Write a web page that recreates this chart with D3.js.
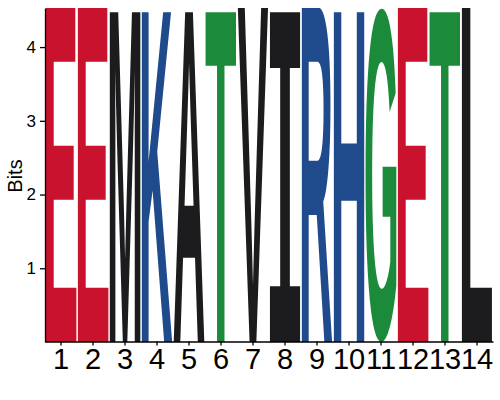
<!DOCTYPE html>
<html>
<head>
<meta charset="utf-8">
<script src="https://cdn.jsdelivr.net/npm/d3@7"></script>
<style>
  body { margin: 0; background: #fff; }
  text { font-family: "Liberation Sans", Arial, Helvetica, sans-serif; }
</style>
</head>
<body>
<div id="chart"></div>
<script>
// one letter per position, full column height (clipped at the top)
var positions = [1, 2, 3, 4, 5, 6, 7, 8, 9, 10, 11, 12, 13, 14];
var letters = ['E', 'E', 'M', 'K', 'A', 'T', 'V', 'I', 'R', 'H', 'G', 'E', 'T', 'L'];
var bits = [4.55, 4.55, 4.55, 4.55, 4.55, 4.55, 4.55, 4.55, 4.55, 4.55, 4.53, 4.55, 4.55, 4.55];
var yTicks = [1, 2, 3, 4];

var colorOf = {
    E: '#c8122e', D: '#c8122e',
    K: '#1f4a8b', R: '#1f4a8b', H: '#1f4a8b',
    G: '#1b8a3b', T: '#1b8a3b', S: '#1b8a3b', Y: '#1b8a3b', C: '#1b8a3b', N: '#1b8a3b', Q: '#1b8a3b',
    A: '#1c1b1e', M: '#1c1b1e', V: '#1c1b1e', I: '#1c1b1e', L: '#1c1b1e', F: '#1c1b1e', W: '#1c1b1e', P: '#1c1b1e'
};

var W = 500, H = 400;
var plotL = 45, plotR = 493, plotT = 8, plotB = 342;

var svg = d3.select('#chart').append('svg')
    .attr('width', W)
    .attr('height', H);

var x = d3.scaleBand().domain(positions).range([plotL, plotR]).padding(0);
var y = d3.scaleLinear().domain([0, 4.53]).range([plotB, plotT]);

svg.append('clipPath').attr('id', 'plotclip')
    .append('rect')
    .attr('x', plotL).attr('y', plotT)
    .attr('width', plotR - plotL).attr('height', plotB - plotT);

// measure real ink bounds of a glyph so it can be stretched to its box
var ctx = document.createElement('canvas').getContext('2d');
function fontFor(ch) {
    // the logo's I has bars top and bottom, like a mono face
    return ch == 'I' ? 'bold 100px "Liberation Mono", monospace'
                     : 'bold 100px "Liberation Sans", Arial, sans-serif';
}
function inkBox(ch) {
    ctx.font = fontFor(ch);
    var m = ctx.measureText(ch);
    return {
        l: m.actualBoundingBoxLeft, r: m.actualBoundingBoxRight,
        a: m.actualBoundingBoxAscent, d: m.actualBoundingBoxDescent
    };
}

var g = svg.append('g').attr('clip-path', 'url(#plotclip)');

positions.forEach(function (p, i) {
    var ch = letters[i];
    var b = inkBox(ch);
    var x0 = x(p) + 0.5, w = x.bandwidth() - 1;
    var y0 = y(bits[i]), h = y(0) - y(bits[i]);
    var sx = w / (b.l + b.r), sy = h / (b.a + b.d);
    g.append('text')
        .attr('transform', 'translate(' + x0 + ',' + y0 + ') scale(' + sx + ',' + sy + ') translate(' + b.l + ',' + b.a + ')')
        .style('font', fontFor(ch))
        .attr('fill', colorOf[ch])
        .text(ch);
});

// axes
var xAxis = svg.append('g')
    .attr('transform', 'translate(0,' + (plotB - 0.5) + ')')
    .call(d3.axisBottom(x).tickSize(4).tickSizeOuter(0).tickPadding(3));
xAxis.selectAll('text').style('font-size', '29px').attr('fill', '#000');
xAxis.selectAll('line, path').attr('stroke', '#000').attr('stroke-width', 1.3);

var yAxis = svg.append('g')
    .attr('transform', 'translate(' + plotL + ',0)')
    .call(d3.axisLeft(y).tickValues(yTicks).tickFormat(d3.format('d')).tickSize(5).tickSizeOuter(0).tickPadding(4));
yAxis.selectAll('text').style('font-size', '17px').attr('fill', '#000');
yAxis.selectAll('line, path').attr('stroke', '#000').attr('stroke-width', 1.3);

svg.append('text')
    .attr('transform', 'translate(22,176) rotate(-90)')
    .attr('text-anchor', 'middle')
    .style('font-size', '20px')
    .text('Bits');
</script>
</body>
</html>
